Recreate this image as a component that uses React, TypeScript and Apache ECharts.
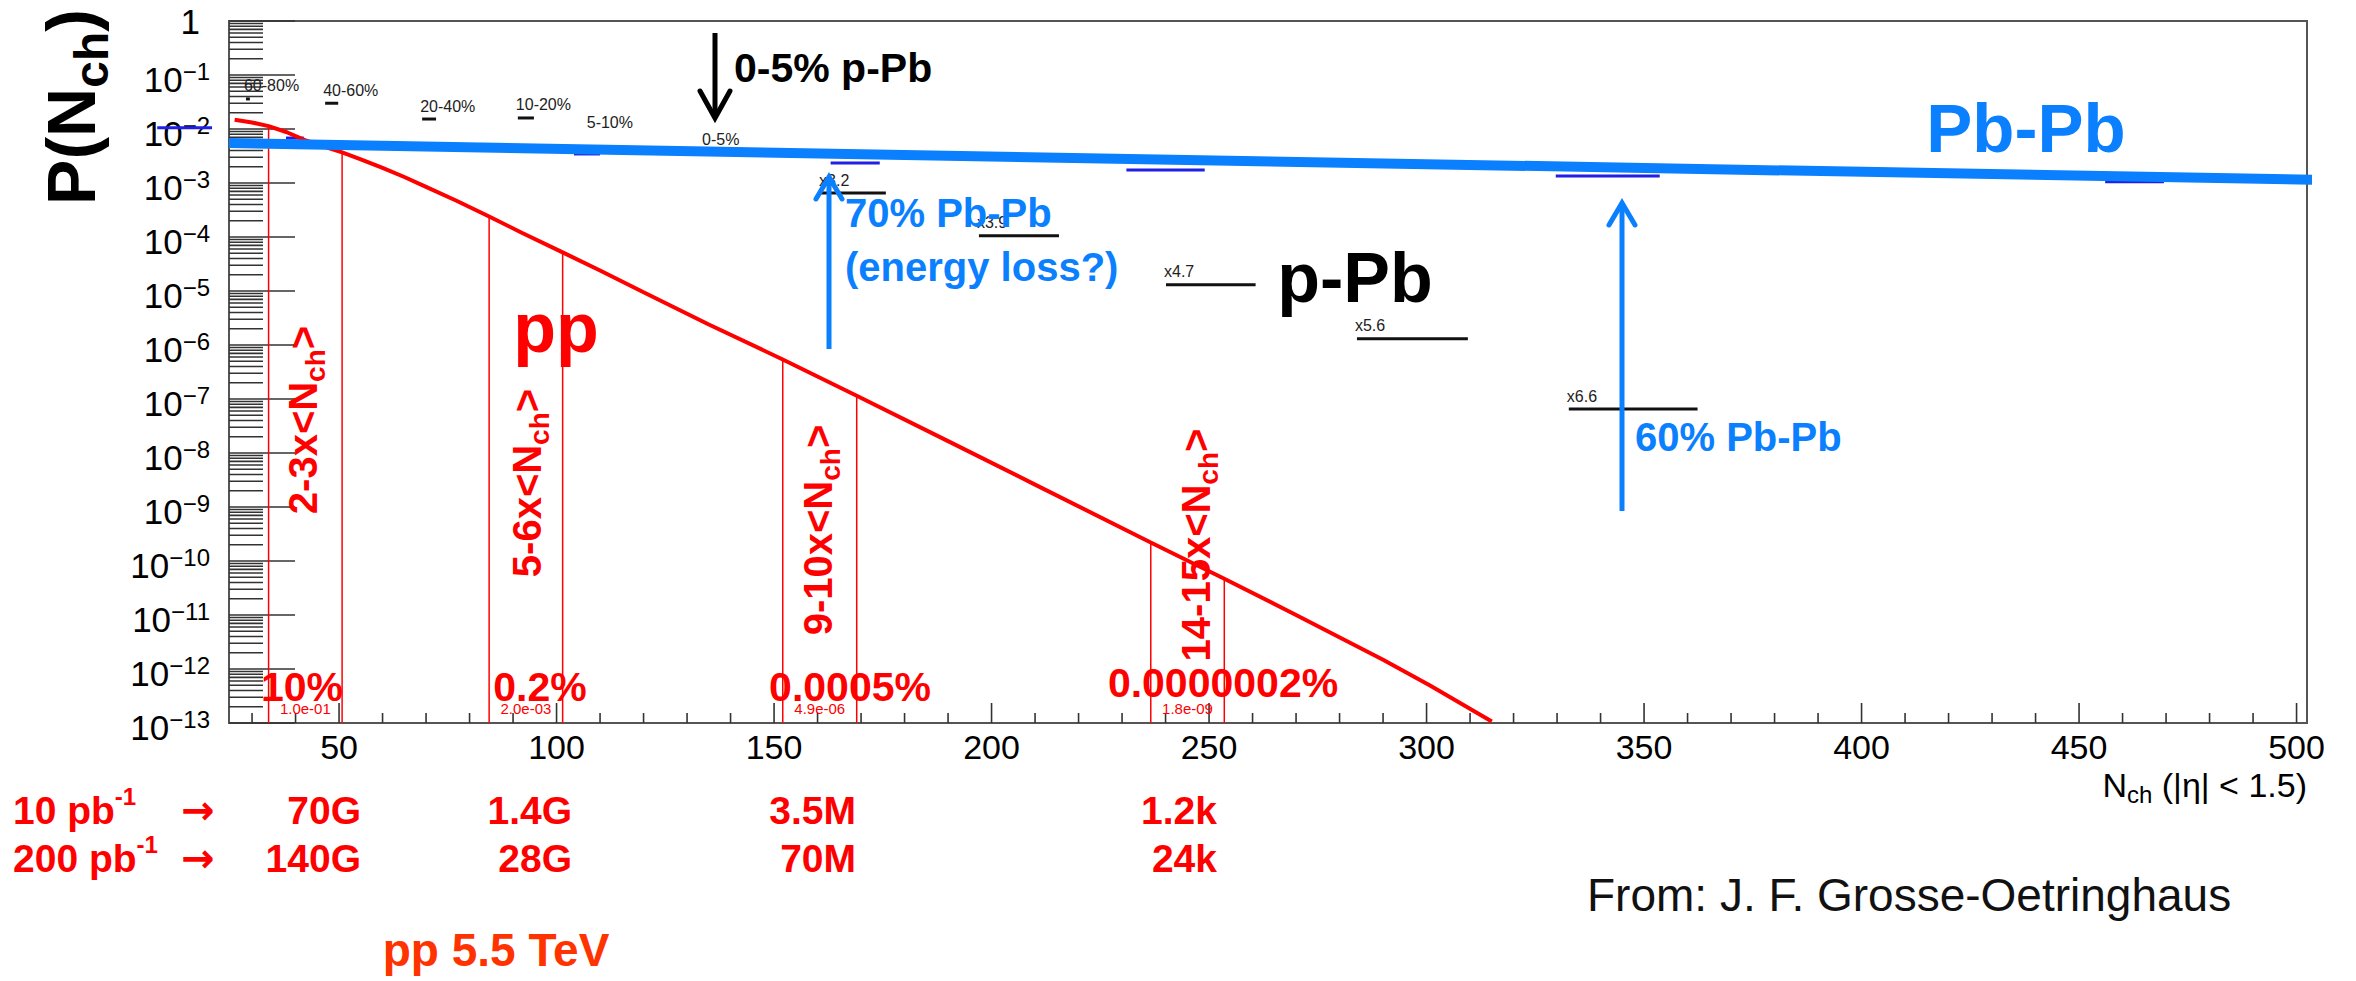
import React, { useEffect, useRef } from 'react';
import * as echarts from 'echarts';

const W = 2356;
const H = 981;
const FONT = '"Liberation Sans", Arial, Helvetica, sans-serif';
const ARROW_FONT = '"DejaVu Sans", "Liberation Sans", sans-serif';
const RED = '#ff0000';
const BLUE = '#0a80ff';
const BIN_BLUE = '#1f1fe6';

// pp 5.5 TeV multiplicity distribution P(Nch)
const ppN = [26, 30, 33.8, 38, 42, 46, 50.7, 55, 60, 65, 70, 77, 84.5, 92, 101.4, 110, 120, 135, 152, 169, 190, 210, 236.6, 253.5, 270, 290, 300.7, 315];
const ppP = [1.48e-2, 1.32e-2, 1.13e-2, 8.7e-3, 6.3e-3, 4.9e-3, 3.7e-3, 2.75e-3, 1.9e-3, 1.29e-3, 8.5e-4, 4.7e-4, 2.4e-4, 1.2e-4, 5.2e-5, 2.4e-5, 9.5e-6, 2.4e-6, 5.4e-7, 1.15e-7, 1.66e-8, 2.6e-9, 2.2e-10, 4.7e-11, 1.0e-11, 1.48e-12, 5.0e-13, 1.07e-13];

// Pb-Pb reference band
const pbpbN = [24.7, 505.5];
const pbpbP = [5.5e-3, 1.14e-3];

// Pb-Pb centrality bins
const pbBinLo = [8.2, 37.8, 104, 163, 231, 329.7, 456];
const pbBinHi = [20.8, 41.9, 110, 174.3, 249, 353.6, 469.5];
const pbBinP = [1.05e-2, 6.8e-3, 3.45e-3, 2.35e-3, 1.74e-3, 1.35e-3, 1.05e-3];

// p-Pb centrality bins and multiples
const pPbLabels = ['60-80%', '40-60%', '20-40%', '10-20%', '5-10%', '0-5%', 'x3.2', 'x3.9', 'x4.7', 'x5.6', 'x6.6'];
const pPbLo = [28.6, 46.8, 69.1, 91.1, 107.4, 133.9, 160.8, 197.1, 240.1, 284, 332.7];
const pPbHi = [29.5, 49.8, 72.3, 94.8, 107.4, 149, 175.7, 215.5, 260.7, 309.5, 362.3];
const pPbP = [3.6e-2, 3.0e-2, 1.53e-2, 1.6e-2, 7.74e-3, 3.75e-3, 6.5e-4, 1.05e-4, 1.3e-5, 1.3e-6, 6.5e-8];

// high-multiplicity bands in units of <Nch>
const bandLo = [33.8, 84.5, 152, 236.6];
const bandHi = [50.7, 101.4, 169, 253.5];
const bandMult = ['2-3x', '5-6x', '9-10x', '14-15x'];
const bandFrac = ['1.0e-01', '2.0e-03', '4.9e-06', '1.8e-09'];
const bandPct = ['10%', '0.2%', '0.0005%', '0.0000002%'];
const yield10 = ['70G', '1.4G', '3.5M', '1.2k'];
const yield200 = ['140G', '28G', '70M', '24k'];
const lumis = ['10', '200'];

const X_MIN = 24.7;
const X_MAX = 502.4;
const Y_MIN = 1e-13;
const Y_MAX = 1;

// text placement (pixels)
const multLabelX = [306, 530, 821, 1199];
const multLabelY = [420, 483, 530, 545];
const pctX = [302, 540, 850, 1223];
const pctY = [687, 687, 687, 683];
const yieldRight = [361, 572, 856, 1217];
const rowY = [807, 855];

const ppAt = (n: number) => ppP[ppN.indexOf(n)];

function subRich(size: number, weight: string, color: string) {
  return {
    n: { fontSize: size, verticalAlign: 'top', fontWeight: weight, fontFamily: FONT, fill: color },
    c: {
      fontSize: Math.round(size * 0.7),
      padding: [Math.round(size * 0.45), 0, 0, 0],
      verticalAlign: 'bottom',
      fontWeight: weight,
      fontFamily: FONT,
      fill: color,
    },
  };
}

function supRich(size: number, supSize: number, lift: number, weight: string, color: string) {
  return {
    n: { fontSize: size, verticalAlign: 'top', padding: [lift, 0, 0, 0], fontWeight: weight, fontFamily: FONT, fill: color },
    s: { fontSize: supSize, verticalAlign: 'top', fontWeight: weight, fontFamily: FONT, fill: color },
  };
}

function text(x: number, y: number, str: string, size: number, o: any = {}) {
  const align = o.align || 'left';
  return {
    type: 'text',
    x,
    y,
    z: 20,
    rotation: o.rotation || 0,
    silent: true,
    style: {
      text: str,
      fontSize: size,
      fontFamily: o.family || FONT,
      fontWeight: o.weight || 'normal',
      fill: o.fill || '#000',
      align,
      verticalAlign: 'middle',
      textAlign: align,
      textVerticalAlign: 'middle',
      rich: o.rich,
    },
  };
}

function arrow(x: number, yTail: number, yTip: number, color: string, width: number, dx: number, dy: number) {
  const s = yTip < yTail ? 1 : -1;
  return [
    { type: 'line', z: 19, silent: true, shape: { x1: x, y1: yTail, x2: x, y2: yTip + s * 2 }, style: { stroke: color, lineWidth: width } },
    {
      type: 'polyline',
      z: 19,
      silent: true,
      shape: { points: [[x - dx, yTip + s * dy], [x, yTip], [x + dx, yTip + s * dy]] },
      style: { stroke: color, lineWidth: width, fill: 'none', lineJoin: 'miter', lineCap: 'round' },
    },
  ];
}

function buildOption() {
  // axis decorations: 0 y minor, 1 y decade, 2 x minor, 3 x major
  const tickData: number[][] = [];
  for (let e = -13; e <= -1; e++) for (let k = 2; k <= 9; k++) tickData.push([X_MIN, k * Math.pow(10, e), 0]);
  for (let e = -13; e <= 0; e++) tickData.push([X_MIN, Math.pow(10, e), 1]);
  for (let v = 30; v <= 500; v += 10) tickData.push([v, Y_MIN, v % 50 === 0 ? 3 : 2]);

  const tickStyle = { stroke: '#333', lineWidth: 1.6 };

  const graphic: any[] = [];

  // axis titles
  graphic.push(text(76, 107, '{n|P(N}{c|ch}{n|)}', 68, { rotation: Math.PI / 2, align: 'center', weight: 'bold', rich: subRich(68, 'bold', '#000') }));
  graphic.push(text(2307, 787, '{n|N}{c|ch}{n| (|η| < 1.5)}', 34, { align: 'right', rich: subRich(34, 'normal', '#000') }));

  // band labels
  bandMult.forEach((m, i) => {
    graphic.push(text(multLabelX[i], multLabelY[i], `{n|${m}<N}{c|ch}{n|>}`, 40, { rotation: Math.PI / 2, align: 'center', weight: 'bold', rich: subRich(40, 'bold', RED) }));
    graphic.push(text(pctX[i], pctY[i], bandPct[i], 41, { align: 'center', weight: 'bold', fill: RED }));
    graphic.push(text(yieldRight[i], rowY[0] + 3, yield10[i], 39, { align: 'right', weight: 'bold', fill: RED }));
    graphic.push(text(yieldRight[i], rowY[1] + 3, yield200[i], 39, { align: 'right', weight: 'bold', fill: RED }));
  });
  lumis.forEach((l, i) => {
    graphic.push(text(13, rowY[i], `{n|${l} pb}{s|-1}`, 39, { weight: 'bold', rich: supRich(39, 24, 6, 'bold', RED) }));
    graphic.push(text(198, rowY[i] + 3, '→', 40, { align: 'center', weight: 'bold', fill: RED, family: ARROW_FONT }));
  });
  graphic.push(text(496, 950, 'pp 5.5 TeV', 46, { align: 'center', weight: 'bold', fill: '#ff3300' }));
  graphic.push(text(1587, 895, 'From: J. F. Grosse-Oetringhaus', 46, { fill: '#111' }));

  // system labels
  graphic.push(text(556, 328, 'pp', 70, { align: 'center', weight: 'bold', fill: RED }));
  graphic.push(text(1355, 278, 'p-Pb', 70, { align: 'center', weight: 'bold', fill: '#000' }));
  graphic.push(text(2026, 128, 'Pb-Pb', 69, { align: 'center', weight: 'bold', fill: BLUE }));

  // arrows and notes
  graphic.push(...arrow(715, 33, 118, '#000', 5, 15, 27));
  graphic.push(text(734, 68, '0-5% p-Pb', 41, { weight: 'bold', fill: '#000' }));
  graphic.push(...arrow(829, 349, 177, BLUE, 5, 13, 22));
  graphic.push(text(845, 213, '70% Pb-Pb', 40, { weight: 'bold', fill: BLUE }));
  graphic.push(text(845, 267, '(energy loss?)', 40, { weight: 'bold', fill: BLUE }));
  graphic.push(...arrow(1622, 511, 203, BLUE, 5, 13, 22));
  graphic.push(text(1635, 437, '60% Pb-Pb', 40, { weight: 'bold', fill: BLUE }));

  return {
    animation: false,
    backgroundColor: '#fff',
    grid: { left: 229, right: 49, top: 21, bottom: 258, show: true, borderColor: '#555', borderWidth: 2, backgroundColor: 'transparent' },
    xAxis: {
      type: 'value',
      min: X_MIN,
      max: X_MAX,
      axisLine: { show: false },
      axisTick: { show: false },
      axisLabel: { show: false },
      splitLine: { show: false },
    },
    yAxis: {
      type: 'log',
      logBase: 10,
      min: Y_MIN,
      max: Y_MAX,
      axisLine: { show: false },
      axisTick: { show: false },
      axisLabel: { show: false },
      splitLine: { show: false },
    },
    graphic,
    series: [
      {
        name: 'axis',
        type: 'custom',
        coordinateSystem: 'cartesian2d',
        clip: false,
        silent: true,
        z: 1,
        encode: { x: 0, y: 1 },
        data: tickData,
        renderItem: (_p: any, api: any) => {
          const kind = api.value(2);
          const v = api.value(1);
          const pt = api.coord([api.value(0), v]);
          if (kind === 0) {
            return { type: 'line', shape: { x1: pt[0], y1: pt[1], x2: pt[0] + 34, y2: pt[1] }, style: tickStyle };
          }
          if (kind === 1) {
            const e = Math.round(Math.log10(v));
            const label =
              e === 0
                ? { type: 'text', x: pt[0] - 29, y: pt[1], style: { text: '1', fontSize: 35, fontFamily: FONT, fill: '#000', align: 'right', verticalAlign: 'middle' } }
                : {
                    type: 'text',
                    x: pt[0] - 19,
                    y: pt[1] + 3,
                    style: {
                      text: `{n|10}{s|\u2212${-e}}`,
                      fontSize: 35,
                      fontFamily: FONT,
                      fill: '#000',
                      align: 'right',
                      verticalAlign: 'middle',
                      rich: supRich(35, 24, 3, 'normal', '#000'),
                    },
                  };
            return {
              type: 'group',
              children: [{ type: 'line', shape: { x1: pt[0], y1: pt[1], x2: pt[0] + 66, y2: pt[1] }, style: tickStyle }, label],
            };
          }
          const len = kind === 3 ? 20 : 10;
          const tick = { type: 'line', shape: { x1: pt[0], y1: pt[1], x2: pt[0], y2: pt[1] - len }, style: tickStyle };
          if (kind === 2) return tick;
          return {
            type: 'group',
            children: [
              tick,
              { type: 'text', x: pt[0], y: pt[1] + 24, style: { text: String(api.value(0)), fontSize: 34, fontFamily: FONT, fill: '#000', align: 'center', verticalAlign: 'middle' } },
            ],
          };
        },
      },
      {
        name: 'bands',
        type: 'custom',
        coordinateSystem: 'cartesian2d',
        clip: false,
        silent: true,
        z: 2,
        encode: { x: 0, y: 2 },
        data: bandLo.map((lo, i) => [lo, bandHi[i], ppAt(lo), ppAt(bandHi[i])]),
        renderItem: (params: any, api: any) => {
          const lo = api.value(0);
          const hi = api.value(1);
          const a0 = api.coord([lo, api.value(2)]);
          const a1 = api.coord([lo, Y_MIN]);
          const b0 = api.coord([hi, api.value(3)]);
          const b1 = api.coord([hi, Y_MIN]);
          const mid = (a1[0] + b1[0]) / 2;
          const st = { stroke: RED, lineWidth: 1.5 };
          return {
            type: 'group',
            children: [
              { type: 'line', shape: { x1: a0[0], y1: a0[1], x2: a1[0], y2: a1[1] }, style: st },
              { type: 'line', shape: { x1: b0[0], y1: b0[1], x2: b1[0], y2: b1[1] }, style: st },
              {
                type: 'text',
                x: mid,
                y: a1[1] - 15,
                style: { text: bandFrac[params.dataIndex], fontSize: 15, fontFamily: FONT, fill: RED, align: 'center', verticalAlign: 'middle' },
              },
            ],
          };
        },
      },
      {
        name: 'Pb-Pb bins',
        type: 'custom',
        coordinateSystem: 'cartesian2d',
        clip: false,
        silent: true,
        z: 3,
        encode: { x: 0, y: 2 },
        data: pbBinLo.map((lo, i) => [lo, pbBinHi[i], pbBinP[i]]),
        renderItem: (_p: any, api: any) => {
          const a = api.coord([api.value(0), api.value(2)]);
          const b = api.coord([api.value(1), api.value(2)]);
          return { type: 'line', shape: { x1: a[0], y1: a[1], x2: b[0], y2: b[1] }, style: { stroke: BIN_BLUE, lineWidth: 3 } };
        },
      },
      {
        name: 'p-Pb bins',
        type: 'custom',
        coordinateSystem: 'cartesian2d',
        clip: false,
        silent: true,
        z: 3,
        encode: { x: 0, y: 2 },
        data: pPbLo.map((lo, i) => [lo, pPbHi[i], pPbP[i]]),
        renderItem: (params: any, api: any) => {
          const a = api.coord([api.value(0), api.value(2)]);
          const b = api.coord([api.value(1), api.value(2)]);
          return {
            type: 'group',
            children: [
              { type: 'line', shape: { x1: a[0], y1: a[1], x2: b[0], y2: b[1] }, style: { stroke: '#111', lineWidth: 3 } },
              {
                type: 'text',
                x: a[0] - 2,
                y: a[1] - 13,
                style: { text: pPbLabels[params.dataIndex], fontSize: 16, fontFamily: FONT, fill: '#222', align: 'left', verticalAlign: 'middle' },
              },
            ],
          };
        },
      },
      {
        name: 'pp',
        type: 'line',
        data: ppN.map((n, i) => [n, ppP[i]]),
        symbol: 'none',
        lineStyle: { color: RED, width: 4 },
        z: 4,
      },
      {
        name: 'Pb-Pb',
        type: 'line',
        data: pbpbN.map((n, i) => [n, pbpbP[i]]),
        symbol: 'none',
        clip: false,
        lineStyle: { color: BLUE, width: 10, cap: 'butt' },
        z: 6,
      },
    ],
  };
}

export default function App() {
  const ref = useRef<HTMLDivElement>(null);
  useEffect(() => {
    const chart = echarts.init(ref.current as HTMLDivElement, null, { renderer: 'svg', width: W, height: H });
    chart.setOption(buildOption() as any);
    return () => chart.dispose();
  }, []);
  return <div ref={ref} style={{ position: 'fixed', left: 0, top: 0, width: W, height: H, background: '#fff' }} />;
}
